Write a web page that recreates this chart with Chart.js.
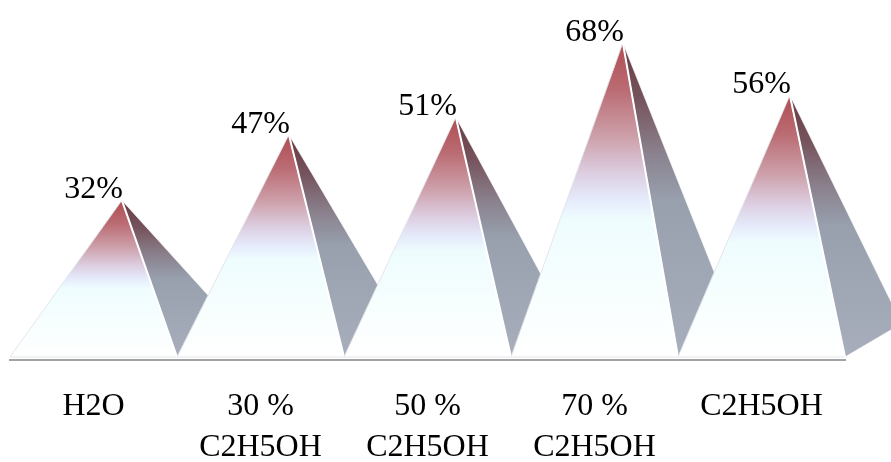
<!DOCTYPE html>
<html>
<head>
<meta charset="utf-8">
<script src="https://cdn.jsdelivr.net/npm/chart.js@4.4.1/dist/chart.umd.min.js"></script>
<style>
  html, body { margin: 0; padding: 0; background: #ffffff; }
  #wrap { width: 891px; height: 462px; position: relative; }
</style>
</head>
<body>
<div id="wrap"><canvas id="chart"></canvas></div>
<script>
// Solvent categories (multi-line tick labels) and measured yield in percent
const categories = ['H2O', ['30 %', 'C2H5OH'], ['50 %', 'C2H5OH'], ['70 %', 'C2H5OH'], 'C2H5OH'];
const yieldPercent = [32, 47, 51, 68, 56];

const FONT = '"Liberation Serif", "Times New Roman", serif';

// Pyramid geometry relative to bar width: receding depth of the square base
const DEPTH_X = 0.34;
const DEPTH_Y = 0.20;
const LIFT = 3; // pyramids sit slightly above the axis line

function frontGradient(ctx, top, bottom) {
  const g = ctx.createLinearGradient(0, top, 0, bottom);
  g.addColorStop(0.00, '#b04b52');
  g.addColorStop(0.15, '#bb6c73');
  g.addColorStop(0.30, '#cda0aa');
  g.addColorStop(0.42, '#ddd0e3');
  g.addColorStop(0.50, '#e5ebfb');
  g.addColorStop(0.56, '#eefcfe');
  g.addColorStop(0.78, '#f7fefe');
  g.addColorStop(1.00, '#ffffff');
  return g;
}

function sideGradient(ctx, top, bottom) {
  const g = ctx.createLinearGradient(0, top, 0, bottom);
  g.addColorStop(0.00, '#683a42');
  g.addColorStop(0.18, '#76545d');
  g.addColorStop(0.35, '#8a818d');
  g.addColorStop(0.50, '#98a0ae');
  g.addColorStop(1.00, '#a8aebb');
  return g;
}

const pyramidPlugin = {
  id: 'pyramids',
  afterDatasetsDraw(chart) {
    const ctx = chart.ctx;
    const meta = chart.getDatasetMeta(0);
    ctx.save();
    meta.data.forEach((bar) => {
      const w = bar.width;
      const base = bar.base - LIFT;
      const left = bar.x - w / 2;
      const right = bar.x + w / 2;
      const dx = w * DEPTH_X;
      const dy = w * DEPTH_Y;
      const ax = bar.x + dx / 2;
      const ay = bar.y - LIFT - dy / 2;
      const bx = right + dx;
      const by = base - dy;

      // front face
      ctx.beginPath();
      ctx.moveTo(left, base);
      ctx.lineTo(ax, ay);
      ctx.lineTo(right, base);
      ctx.closePath();
      ctx.fillStyle = frontGradient(ctx, ay, base);
      ctx.fill();
      ctx.lineWidth = 1;
      ctx.strokeStyle = 'rgba(225,227,233,0.9)';
      ctx.stroke();

      // right side face
      ctx.beginPath();
      ctx.moveTo(ax, ay);
      ctx.lineTo(bx, by);
      ctx.lineTo(right, base);
      ctx.closePath();
      ctx.fillStyle = sideGradient(ctx, ay, base);
      ctx.fill();
      ctx.lineWidth = 1;
      ctx.strokeStyle = 'rgba(255,255,255,0.7)';
      ctx.stroke();

      // bright ridge between the two faces
      ctx.beginPath();
      ctx.moveTo(ax, ay);
      ctx.lineTo(right, base);
      ctx.lineWidth = 2;
      ctx.strokeStyle = '#ffffff';
      ctx.stroke();
    });
    ctx.restore();
  },
  afterDraw(chart) {
    const ctx = chart.ctx;
    const meta = chart.getDatasetMeta(0);
    const values = chart.data.datasets[0].data;
    ctx.save();
    ctx.font = '32px ' + FONT;
    ctx.fillStyle = '#000000';
    ctx.textAlign = 'right';
    ctx.textBaseline = 'alphabetic';
    meta.data.forEach((bar, i) => {
      const w = bar.width;
      const ax = bar.x + w * DEPTH_X / 2;
      const ay = bar.y - LIFT - w * DEPTH_Y / 2;
      ctx.fillText(values[i] + '%', ax + 1, ay - 2);
    });
    ctx.restore();
  }
};

new Chart(document.getElementById('chart'), {
  type: 'bar',
  data: {
    labels: categories,
    datasets: [{
      data: yieldPercent,
      backgroundColor: 'rgba(0,0,0,0)',
      borderWidth: 0,
      barPercentage: 1,
      categoryPercentage: 1
    }]
  },
  options: {
    responsive: true,
    maintainAspectRatio: false,
    animation: false,
    events: [],
    layout: { padding: { left: 10, right: 46, top: 10, bottom: 0 } },
    plugins: { legend: { display: false }, tooltip: { enabled: false } },
    scales: {
      x: {
        grid: { display: false },
        border: { display: true, color: '#a3a3a3', width: 2 },
        ticks: {
          color: '#000000',
          padding: 18,
          maxRotation: 0,
          autoSkip: false,
          font: { family: FONT, size: 32, lineHeight: 1.28 }
        },
        afterFit(scale) { scale.height = 102; }
      },
      y: {
        display: false,
        min: 0,
        max: 80
      }
    }
  },
  plugins: [pyramidPlugin]
});
</script>
</body>
</html>
